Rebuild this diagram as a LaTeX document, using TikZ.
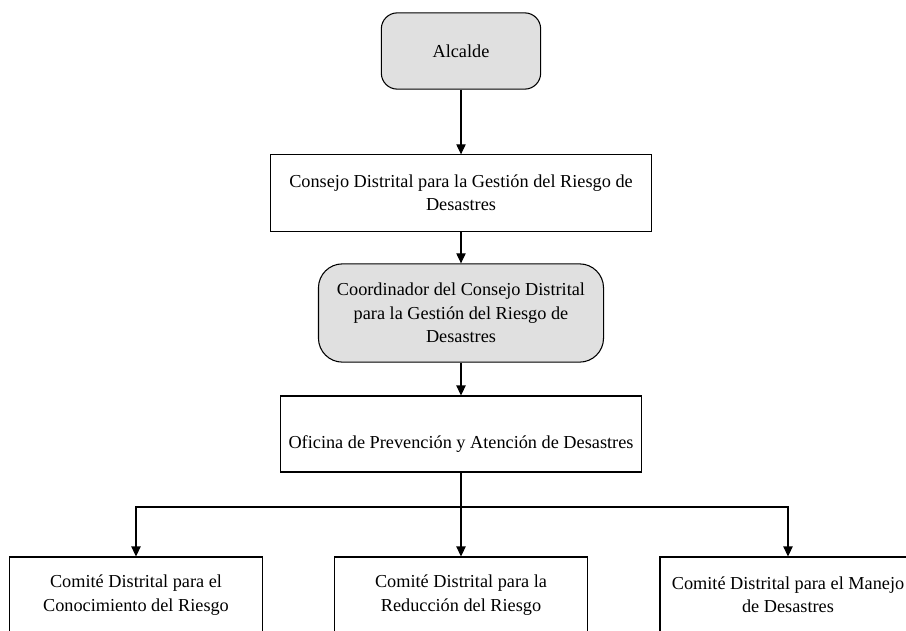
\documentclass[tikz,border=0pt]{standalone}
\usepackage{fontspec}
\setmainfont{Liberation Serif}
\usetikzlibrary{arrows.meta}
\definecolor{boxgray}{RGB}{224,224,224}

\begin{document}
\begin{tikzpicture}[x=0.75pt, y=-0.75pt,
  box/.style={draw=black, line width=0.8pt, inner sep=0pt, align=center,
    font=\fontsize{13.7}{17.5}\selectfont},
  plainbox/.style={box, rectangle, fill=white},
  roundbox/.style={box, rectangle, rounded corners=12pt, fill=boxgray},
  link/.style={draw=black, line width=0.8pt, -{Triangle[length=7.5pt,width=7pt]}},
  wire/.style={draw=black, line width=0.8pt}]

\useasboundingbox (0,0) rectangle (906,631);
\clip (0,0) rectangle (906,631);

% chain of command
\node[roundbox, minimum width=119.5pt, minimum height=57.2pt] (alc) at (461,51) {Alcalde};
\node[plainbox, minimum width=285.8pt, minimum height=57.2pt] (con) at (461,193)
  {Consejo Distrital para la Gestión del Riesgo de\\Desastres};
\node[roundbox, rounded corners=18pt, minimum width=213.8pt, minimum height=73.7pt] (coo) at (461,313)
  {Coordinador del Consejo Distrital\\para la Gestión del Riesgo de\\Desastres};
\node[plainbox, minimum width=270.8pt, minimum height=57pt, text height=24pt, text depth=3pt] (ofi) at (461,434)
  {Oficina de Prevención y Atención de Desastres};

% committees
\node[plainbox, minimum width=189.8pt, minimum height=57pt] (c1) at (136,595)
  {Comité Distrital para el\\Conocimiento del Riesgo};
\node[plainbox, minimum width=189.3pt, minimum height=57pt] (c2) at (461,595)
  {Comité Distrital para la\\Reducción del Riesgo};
\node[plainbox, minimum width=192pt, minimum height=57pt] (c3) at (788,595)
  {Comité Distrital para el Manejo\\de Desastres};

% connectors
\draw[link] (alc.south) -- (alc.south |- con.north);
\draw[link] (con.south) -- (con.south |- coo.north);
\draw[link] (coo.south) -- (coo.south |- ofi.north);

\coordinate (bus) at (461,507);
\draw[link] (ofi.south) -- (ofi.south |- c2.north);
\draw[link] (bus) -| (c1.north);
\draw[link] (bus) -| (c3.north);
\end{tikzpicture}
\end{document}
